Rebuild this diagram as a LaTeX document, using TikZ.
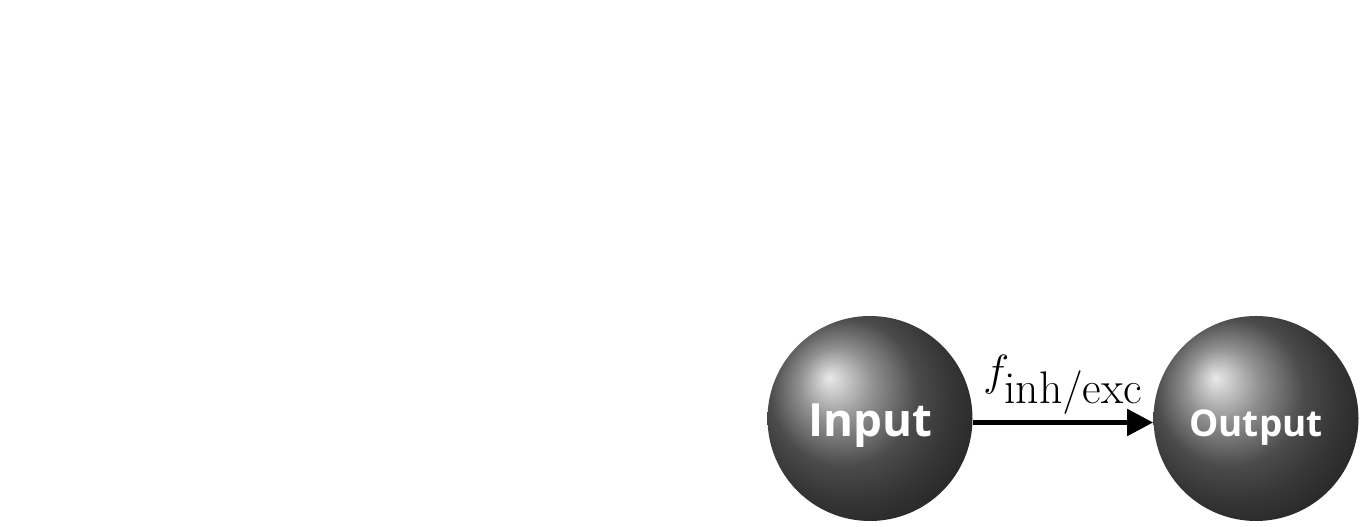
\documentclass[tikz,border=0pt]{standalone}
\usepackage{amsmath}
\usepackage{fontspec}
\newfontfamily\ballfont{Open Sans}
\usepackage{tikz}
\usetikzlibrary{arrows.meta,positioning}

\begin{document}
\begin{tikzpicture}[
    neuron/.style={circle, minimum size=4.1cm, inner sep=0pt, shading=ball, ball color=black!58, text=white, text height=20pt, text depth=0pt},
    arrow/.style={-{Triangle[length=0.52cm,width=0.52cm]}, line width=2.8pt}
]
\useasboundingbox (0,0) rectangle (27.3,10.54);
\node[neuron, font=\ballfont\bfseries\fontsize{26}{28}\selectfont] (in) at (17.4,2.17) {Input};
\node[neuron, font=\ballfont\bfseries\fontsize{21}{24}\selectfont] (out) at (25.12,2.17) {Output};

\draw[arrow] ([yshift=-0.08cm]in.east) -- node[above=0pt, font=\fontsize{26}{30}\selectfont] {$f_{\textstyle\mathrm{inh/exc}}$} ([yshift=-0.08cm]out.west);
\end{tikzpicture}
\end{document}
